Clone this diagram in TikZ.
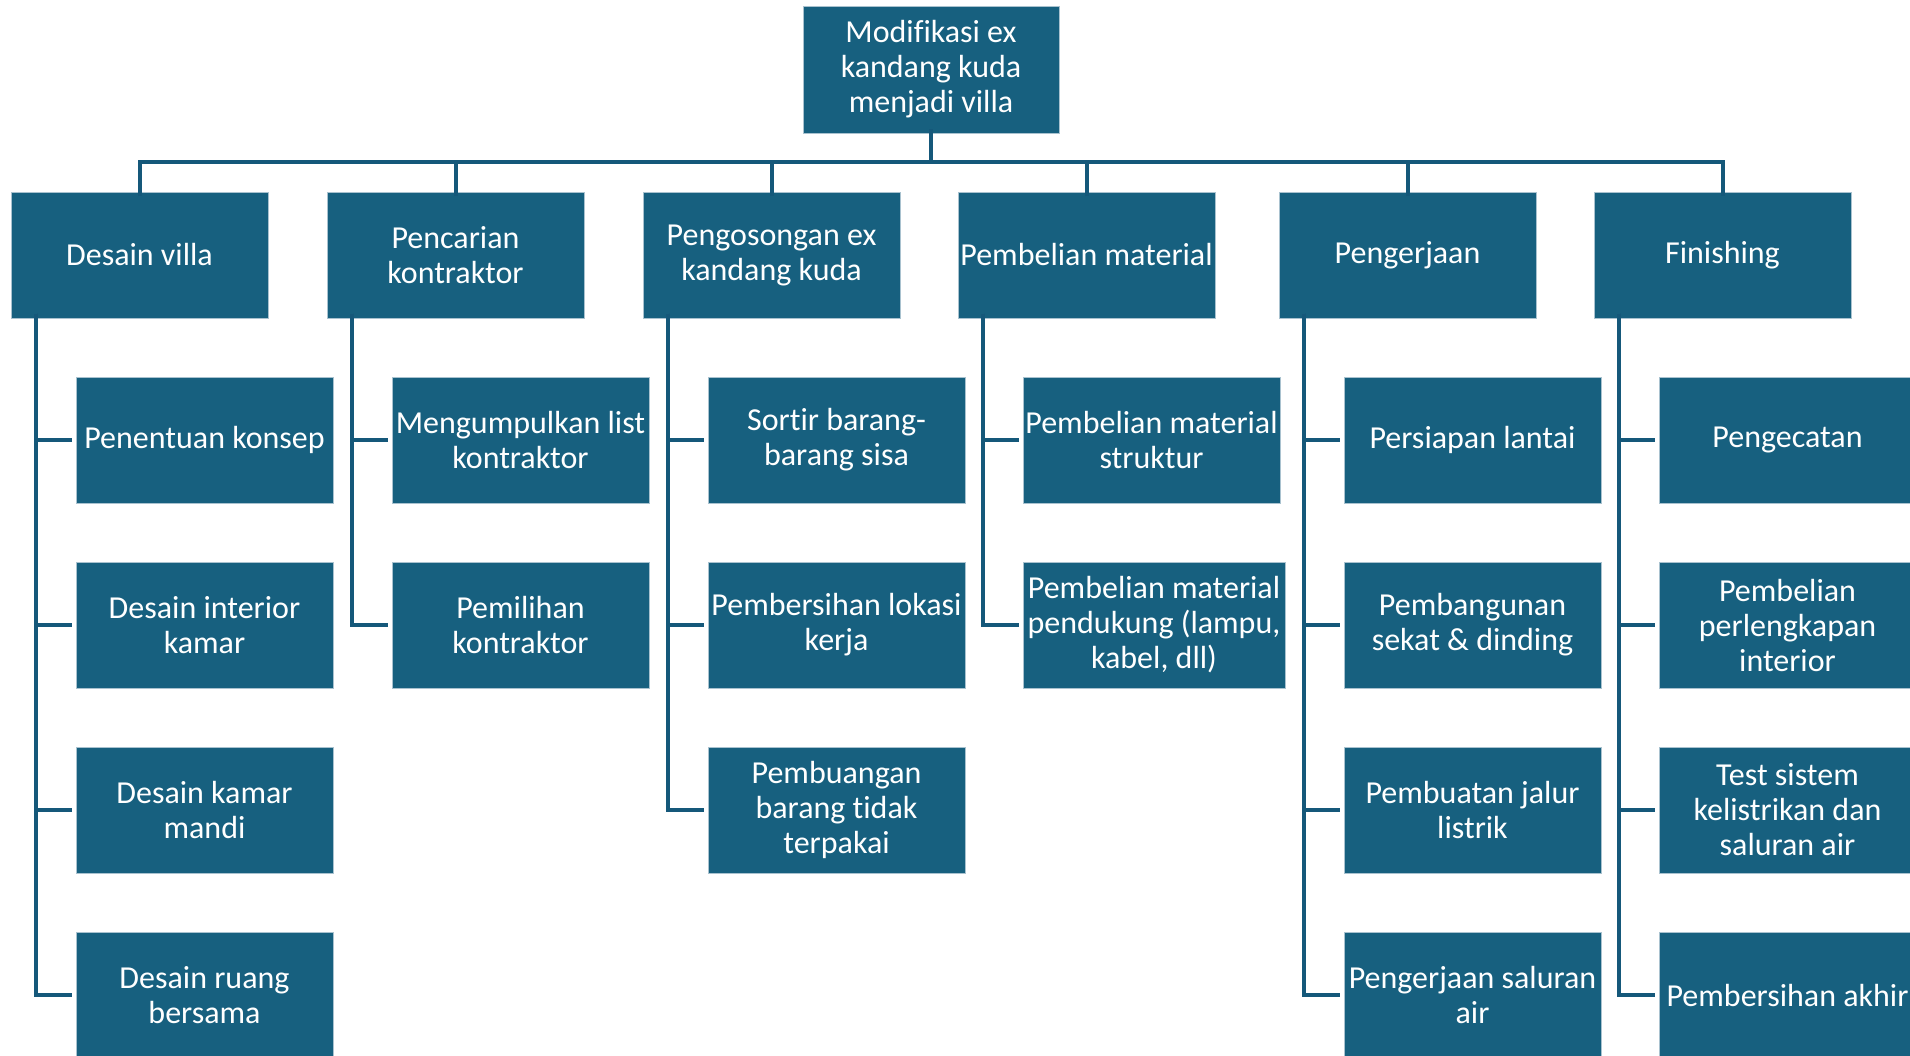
\documentclass[tikz,border=0pt]{standalone}
\usepackage{fontspec}
\setmainfont{Carlito}[Ligatures={NoCommon}]
\definecolor{boxblue}{HTML}{17607F}
\definecolor{boxedge}{HTML}{A9C2CF}
\definecolor{linkblue}{HTML}{15587A}
\tikzset{
  wbsbox/.style={rectangle, fill=boxblue, draw=boxedge, line width=0.8pt,
    minimum width=257pt, minimum height=126pt, inner sep=0pt, outer sep=0pt,
    text=white, align=center, font=\fontsize{32}{35}\selectfont},
  link/.style={draw=linkblue, line width=4pt},
}
\begin{document}
\begin{tikzpicture}[x=1pt, y=-1pt]
\clip (0,0) rectangle (1910,1055);
\fill[white] (0,0) rectangle (1910,1055);

% root
\node[wbsbox, minimum width=256pt, minimum height=127pt] (root) at (931,69.5)
  {Modifikasi ex\\kandang kuda\\menjadi villa};

% level 1
\node[wbsbox] (d1) at (139.5,255) {Desain villa};
\node[wbsbox] (d2) at (455.5,255) {Pencarian\\kontraktor};
\node[wbsbox] (d3) at (771.5,255) {Pengosongan ex\\kandang kuda};
\node[wbsbox] (d4) at (1086.5,255) {Pembelian material};
\node[wbsbox] (d5) at (1407.5,255) {Pengerjaan};
\node[wbsbox] (d6) at (1722.5,255) {Finishing};

% level 2: Desain villa
\node[wbsbox] (a1) at (204.5,440) {Penentuan konsep};
\node[wbsbox] (a2) at (204.5,625) {Desain interior\\kamar};
\node[wbsbox] (a3) at (204.5,810) {Desain kamar\\mandi};
\node[wbsbox] (a4) at (204.5,995) {Desain ruang\\bersama};

% level 2: Pencarian kontraktor
\node[wbsbox] (b1) at (520.5,440) {Mengumpulkan list\\kontraktor};
\node[wbsbox] (b2) at (520.5,625) {Pemilihan\\kontraktor};

% level 2: Pengosongan
\node[wbsbox] (c1) at (836.5,440) {Sortir barang-\\barang sisa};
\node[wbsbox] (c2) at (836.5,625) {Pembersihan lokasi\\kerja};
\node[wbsbox] (c3) at (836.5,810) {Pembuangan\\barang tidak\\terpakai};

% level 2: Pembelian material
\node[wbsbox] (e1) at (1151.5,440) {Pembelian material\\struktur};
\node[wbsbox, minimum width=262pt] (e2) at (1154,625) {Pembelian material\\pendukung (lampu,\\kabel, dll)};

% level 2: Pengerjaan
\node[wbsbox] (f1) at (1472.5,440) {Persiapan lantai};
\node[wbsbox] (f2) at (1472.5,625) {Pembangunan\\sekat \& dinding};
\node[wbsbox] (f3) at (1472.5,810) {Pembuatan jalur\\listrik};
\node[wbsbox] (f4) at (1472.5,995) {Pengerjaan saluran\\air};

% level 2: Finishing
\node[wbsbox] (g1) at (1787.5,440) {Pengecatan};
\node[wbsbox] (g2) at (1787.5,625) {Pembelian\\perlengkapan\\interior};
\node[wbsbox] (g3) at (1787.5,810) {Test sistem\\kelistrikan dan\\saluran air};
\node[wbsbox] (g4) at (1787.5,995) {Pembersihan akhir};

% connectors: root to level 1
\coordinate (bar) at (931,162);
\draw[link] ([yshift=4pt]root.south) -- (bar);
\draw[link] ([yshift=-4pt]d1.north) |- (bar) -| ([yshift=-4pt]d6.north);
\foreach \n in {d2,d3,d4,d5}
  \draw[link] ([yshift=-4pt]\n.north) -- (\n.north |- bar);

% connectors: level 1 to level 2
\foreach \p/\c in {d1/a1,d1/a2,d1/a3,d1/a4,d2/b1,d2/b2,d3/c1,d3/c2,d3/c3,
                   d4/e1,d4/e2,d5/f1,d5/f2,d5/f3,d5/f4,d6/g1,d6/g2,d6/g3,d6/g4}
  \draw[link] ([xshift=24.5pt,yshift=4.5pt]\p.south west) |- ([xshift=-4pt]\c.west);
\end{tikzpicture}
\end{document}
